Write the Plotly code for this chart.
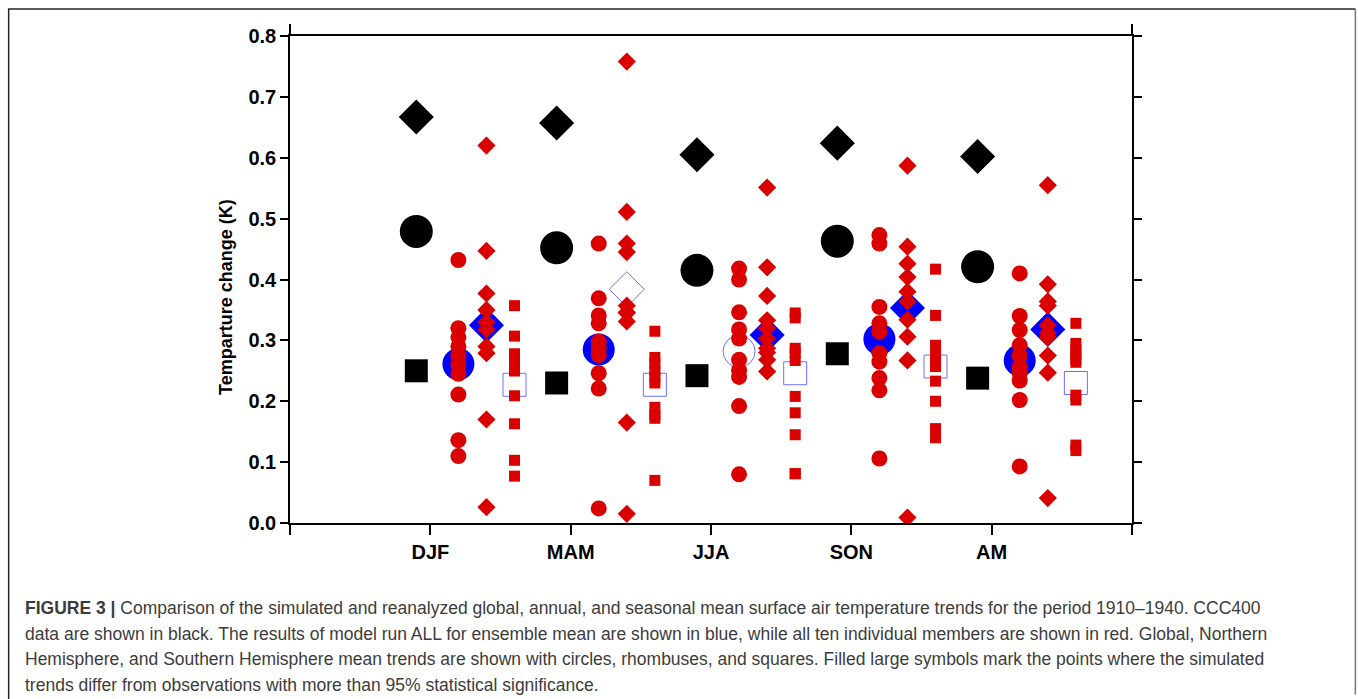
import plotly.graph_objects as go

# ---------------- data ----------------
seasons = ["DJF", "MAM", "JJA", "SON", "AM"]

# CCC400 (observations / reanalysis) - black
obs_global = [0.479, 0.452, 0.415, 0.463, 0.421]
obs_nh = [0.667, 0.657, 0.605, 0.624, 0.602]
obs_sh = [0.250, 0.230, 0.242, 0.278, 0.238]

# ensemble mean of model run ALL - blue
ens_global = [0.261, 0.285, 0.282, 0.302, 0.267]
ens_nh = [0.325, 0.384, 0.309, 0.353, 0.318]
ens_sh = [0.227, 0.227, 0.246, 0.257, 0.230]
sig_global = [True, True, False, True, True]
sig_nh = [True, False, True, True, True]
sig_sh = [False, False, False, False, False]

# individual members - red
mem_global = {
    "DJF": [0.432, 0.320, 0.305, 0.290, 0.275, 0.260, 0.245, 0.211, 0.136, 0.110],
    "MAM": [0.459, 0.369, 0.341, 0.328, 0.298, 0.288, 0.276, 0.246, 0.221, 0.024],
    "JJA": [0.418, 0.400, 0.346, 0.318, 0.303, 0.268, 0.251, 0.240, 0.192, 0.080],
    "SON": [0.473, 0.459, 0.355, 0.328, 0.314, 0.279, 0.265, 0.238, 0.218, 0.106],
    "AM": [0.410, 0.340, 0.317, 0.292, 0.275, 0.257, 0.246, 0.234, 0.202, 0.093],
}
mem_nh = {
    "DJF": [0.620, 0.447, 0.377, 0.350, 0.330, 0.318, 0.290, 0.279, 0.170, 0.026],
    "MAM": [0.758, 0.511, 0.459, 0.445, 0.357, 0.346, 0.331, 0.345, 0.165, 0.015],
    "JJA": [0.551, 0.420, 0.373, 0.333, 0.320, 0.303, 0.287, 0.280, 0.268, 0.249],
    "SON": [0.587, 0.454, 0.426, 0.404, 0.380, 0.364, 0.334, 0.306, 0.267, 0.009],
    "AM": [0.555, 0.392, 0.364, 0.357, 0.325, 0.312, 0.305, 0.275, 0.247, 0.041],
}
mem_sh = {
    "DJF": [0.357, 0.307, 0.278, 0.265, 0.250, 0.250, 0.209, 0.163, 0.103, 0.077],
    "MAM": [0.315, 0.272, 0.262, 0.250, 0.240, 0.230, 0.190, 0.178, 0.172, 0.070],
    "JJA": [0.345, 0.337, 0.287, 0.280, 0.267, 0.208, 0.181, 0.145, 0.081, 0.081],
    "SON": [0.417, 0.341, 0.292, 0.276, 0.265, 0.257, 0.233, 0.200, 0.155, 0.140],
    "AM": [0.328, 0.295, 0.285, 0.279, 0.270, 0.264, 0.210, 0.202, 0.128, 0.119],
}

ytick_vals = [0.0, 0.1, 0.2, 0.3, 0.4, 0.5, 0.6, 0.7, 0.8]

caption_lines = [
    "<b>FIGURE 3 |</b> Comparison of the simulated and reanalyzed global, annual, and seasonal mean surface air temperature trends for the period 1910–1940. CCC400",
    "data are shown in black. The results of model run ALL for ensemble mean are shown in blue, while all ten individual members are shown in red. Global, Northern",
    "Hemisphere, and Southern Hemisphere mean trends are shown with circles, rhombuses, and squares. Filled large symbols mark the points where the simulated",
    "trends differ from observations with more than 95% statistical significance.",
]

# ---------------- style ----------------
RED = "rgb(218,0,0)"
BLUE = "rgb(0,0,255)"
OPEN_BLUE = "rgb(110,110,255)"
BLACK = "#000000"
OFF_OBS, OFF_G, OFF_N, OFF_S = -0.1, 0.2, 0.4, 0.6

W, H = 1358, 699
L, R, T, B = 290, 1132.5, 36, 523.3

def px(xp):
    return (xp - L) / (R - L)

def py(yp):
    return (B - yp) / (B - T)

fig = go.Figure()
pos = list(range(1, len(seasons) + 1))

# black observations
fig.add_trace(go.Scatter(x=[p + OFF_OBS for p in pos], y=obs_nh, mode="markers",
                         marker=dict(symbol="diamond", size=27, color=BLACK), showlegend=False))
fig.add_trace(go.Scatter(x=[p + OFF_OBS for p in pos], y=obs_global, mode="markers",
                         marker=dict(symbol="circle", size=33, color=BLACK), showlegend=False))
fig.add_trace(go.Scatter(x=[p + OFF_OBS for p in pos], y=obs_sh, mode="markers",
                         marker=dict(symbol="square", size=23, color=BLACK), showlegend=False))

# blue ensemble means
def blue_trace(vals, sig, off, sym, size):
    xs = [p + off for p in pos]
    fx = [x for x, s in zip(xs, sig) if s]
    fy = [v for v, s in zip(vals, sig) if s]
    ox = [x for x, s in zip(xs, sig) if not s]
    oy = [v for v, s in zip(vals, sig) if not s]
    if fx:
        fig.add_trace(go.Scatter(x=fx, y=fy, mode="markers",
                                 marker=dict(symbol=sym, size=size, color=BLUE,
                                             line=dict(width=0)), showlegend=False))
    if ox:
        fig.add_trace(go.Scatter(x=ox, y=oy, mode="markers",
                                 marker=dict(symbol=sym + "-open", size=size, color=OPEN_BLUE,
                                             line=dict(width=1)), showlegend=False))

blue_trace(ens_global, sig_global, OFF_G, "circle", 32)
blue_trace(ens_nh, sig_nh, OFF_N, "diamond", 27)
blue_trace(ens_sh, sig_sh, OFF_S, "square", 23)

# red members
for members, off, sym, size in [(mem_global, OFF_G, "circle", 16),
                                (mem_nh, OFF_N, "diamond", 14),
                                (mem_sh, OFF_S, "square", 11)]:
    xs, ys = [], []
    for p, s in zip(pos, seasons):
        for v in members[s]:
            xs.append(p + off)
            ys.append(v)
    fig.add_trace(go.Scatter(x=xs, y=ys, mode="markers",
                             marker=dict(symbol=sym, size=size, color=RED, line=dict(width=0)),
                             showlegend=False))

# invisible trace to activate the top axis
fig.add_trace(go.Scatter(x=[0, 6], y=[0, 0], xaxis="x2", mode="markers",
                         marker=dict(opacity=0), showlegend=False, hoverinfo="skip"))

axis_font = dict(family="Liberation Sans, Arial, sans-serif", size=20, color="#000")

fig.update_layout(
    width=W, height=H,
    margin=dict(l=L, r=W - R, t=T, b=H - B, pad=0),
    paper_bgcolor="white", plot_bgcolor="white",
    xaxis=dict(range=[0, 6], tickvals=[0, 1, 2, 3, 4, 5, 6],
               ticktext=["", "<b>DJF</b>", "<b>MAM</b>", "<b>JJA</b>", "<b>SON</b>", "<b>AM</b>", ""],
               ticks="outside", ticklen=10, tickwidth=1.5, tickcolor="#000",
               showline=True, linecolor="#000", linewidth=1.5, showgrid=False, zeroline=False,
               tickfont=axis_font, fixedrange=True),
    xaxis2=dict(range=[0, 6], overlaying="x", side="top", tickvals=[0, 6],
                ticks="outside", ticklen=10, tickwidth=1.5, tickcolor="#000",
                showticklabels=False, showline=True, linecolor="#000", linewidth=1.5,
                showgrid=False, zeroline=False),
    yaxis=dict(range=[0, 0.8], tickvals=ytick_vals,
               ticktext=["<b>%.1f</b>" % v for v in ytick_vals],
               ticks="outside", ticklen=8, tickwidth=1.5, tickcolor="#000",
               showline=True, linecolor="#000", linewidth=1.5, mirror="ticks",
               showgrid=False, zeroline=False, tickfont=axis_font),
    showlegend=False,
)

# y-axis title
fig.add_annotation(text="<b>Temparture change (K)</b>", xref="paper", yref="paper",
                   x=px(226), y=py(297), textangle=-90, showarrow=False,
                   font=dict(family="Liberation Sans, Arial, sans-serif", size=18, color="#000"),
                   xanchor="center", yanchor="middle")

# caption
cap_y = [608, 634, 659, 685]
for line, yy in zip(caption_lines, cap_y):
    fig.add_annotation(text=line, xref="paper", yref="paper", x=px(23), y=py(yy),
                       xanchor="left", yanchor="middle", showarrow=False, align="left",
                       font=dict(family="Liberation Sans, Arial, sans-serif", size=17.5,
                                 color="#3c3c3c"))

# outer frame
fig.add_shape(type="line", xref="paper", yref="paper", x0=px(8.5), x1=px(8.5), y0=py(9), y1=py(710),
              line=dict(color="#222", width=1.5))
fig.add_shape(type="line", xref="paper", yref="paper", x0=px(8), x1=px(1356), y0=py(9), y1=py(9),
              line=dict(color="#222", width=1.5))
fig.add_shape(type="line", xref="paper", yref="paper", x0=px(1356), x1=px(1356), y0=py(9), y1=py(695),
              line=dict(color="#777", width=1.5))

fig.write_html("out.html")
